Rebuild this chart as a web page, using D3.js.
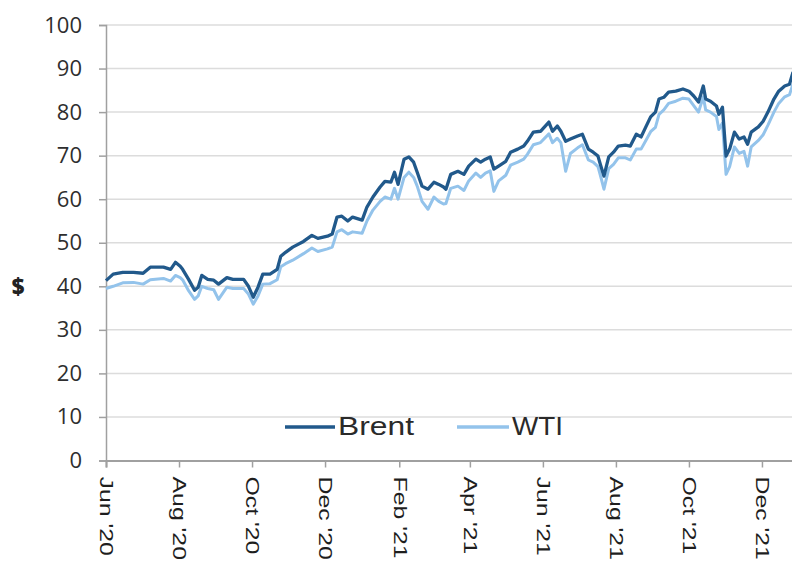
<!DOCTYPE html>
<html>
<head>
<meta charset="utf-8">
<script src="https://cdn.jsdelivr.net/npm/d3@7"></script>
<style>
  body { margin: 0; background: #fff; }
  svg { display: block; }
</style>
</head>
<body>
<div id="chart"></div>
<script>
// oil prices

var dates = [
  "2020-06-01","2020-06-07","2020-06-15","2020-06-24","2020-07-02","2020-07-08","2020-07-19","2020-07-25",
  "2020-07-29","2020-08-02","2020-08-04","2020-08-09","2020-08-14","2020-08-17","2020-08-20","2020-08-25",
  "2020-08-30","2020-09-03","2020-09-10","2020-09-15","2020-09-24","2020-09-28","2020-10-02","2020-10-06",
  "2020-10-10","2020-10-16","2020-10-22","2020-10-25","2020-10-29","2020-11-04","2020-11-13","2020-11-20",
  "2020-11-25","2020-12-03","2020-12-07","2020-12-11","2020-12-15","2020-12-20","2020-12-24","2021-01-01",
  "2021-01-05","2021-01-10","2021-01-16","2021-01-20","2021-01-25","2021-01-28","2021-01-31","2021-02-05",
  "2021-02-09","2021-02-13","2021-02-16","2021-02-20","2021-02-25","2021-03-02","2021-03-06","2021-03-10",
  "2021-03-12","2021-03-16","2021-03-22","2021-03-27","2021-03-31","2021-04-06","2021-04-10","2021-04-14",
  "2021-04-18","2021-04-21","2021-04-25","2021-05-01","2021-05-05","2021-05-11","2021-05-16","2021-05-19",
  "2021-05-24","2021-05-30","2021-06-06","2021-06-09","2021-06-13","2021-06-16","2021-06-20","2021-06-24",
  "2021-06-30","2021-07-04","2021-07-09","2021-07-13","2021-07-17","2021-07-19","2021-07-22","2021-07-26",
  "2021-07-30","2021-08-03","2021-08-09","2021-08-13","2021-08-18","2021-08-22","2021-08-26","2021-08-30",
  "2021-09-03","2021-09-06","2021-09-10","2021-09-14","2021-09-20","2021-09-26","2021-10-01","2021-10-05",
  "2021-10-09","2021-10-13","2021-10-15","2021-10-19","2021-10-24","2021-10-26","2021-10-29","2021-11-01",
  "2021-11-04","2021-11-08","2021-11-12","2021-11-16","2021-11-19","2021-11-22","2021-11-28","2021-12-02",
  "2021-12-06","2021-12-11","2021-12-15","2021-12-20","2021-12-24","2021-12-27"
];

var brent = [
  41.3, 42.8, 43.2, 43.2, 43.0, 44.4, 44.4, 43.9,
  45.5, 44.6, 43.9, 41.6, 39.1, 39.8, 42.5, 41.6,
  41.4, 40.5, 42.0, 41.6, 41.6, 40.0, 37.5, 39.8,
  42.8, 42.8, 43.9, 46.9, 47.8, 49.0, 50.3, 51.7,
  51.0, 51.5, 52.0, 55.9, 56.1, 55.0, 55.9, 55.2,
  58.2, 60.5, 62.8, 64.1, 63.9, 66.2, 63.4, 69.2,
  69.7, 68.5, 66.2, 63.0, 62.3, 63.9, 63.4, 62.8,
  62.3, 65.7, 66.4, 65.7, 67.6, 69.2, 68.5, 69.2,
  69.7, 66.9, 67.6, 68.7, 70.8, 71.5, 72.2, 73.3,
  75.4, 75.6, 77.7, 75.6, 76.8, 75.6, 73.3, 73.8,
  74.5, 74.9, 71.5, 70.8, 69.9, 68.0, 65.3, 69.7,
  70.8, 72.2, 72.4, 72.2, 74.9, 74.3, 76.6, 78.9,
  80.0, 83.0, 83.4, 84.6, 84.8, 85.3, 84.8, 83.7,
  82.3, 86.0, 83.0, 82.5, 81.4, 79.5, 81.1, 69.9,
  71.5, 75.4, 73.8, 74.3, 72.6, 75.4, 76.6, 77.9,
  80.0, 83.0, 84.8, 86.0, 86.4, 89.2
];

var wti = [
  39.5, 40.0, 40.8, 40.9, 40.5, 41.5, 41.8, 41.2,
  42.5, 42.0, 41.5, 39.0, 37.0, 37.8, 40.0, 39.5,
  39.2, 37.0, 39.8, 39.5, 39.5, 38.2, 35.9, 37.8,
  40.5, 40.6, 41.5, 44.5, 45.2, 46.0, 47.5, 48.8,
  48.0, 48.6, 49.0, 52.5, 53.0, 52.0, 52.5, 52.2,
  55.0, 57.5, 59.5, 60.5, 60.0, 62.5, 60.0, 65.0,
  66.2, 65.0, 63.0, 59.5, 57.7, 60.5, 59.5, 58.9,
  59.0, 62.5, 63.0, 62.0, 64.2, 66.0, 65.0, 66.0,
  66.5, 61.8, 64.2, 65.5, 67.8, 68.5, 69.2, 70.3,
  72.5, 73.0, 75.0, 73.0, 74.0, 73.0, 66.4, 70.5,
  71.8, 72.5, 69.0, 68.5, 67.5, 65.5, 62.3, 67.0,
  68.0, 69.5, 69.5, 69.0, 71.5, 71.5, 73.5, 75.5,
  76.5, 79.5, 80.5, 82.0, 82.5, 83.2, 83.0, 81.5,
  80.0, 83.5, 80.5, 80.0, 79.0, 76.0, 77.5, 65.7,
  67.5, 72.0, 70.5, 71.0, 67.6, 72.0, 73.5, 74.8,
  77.0, 80.0, 82.0, 83.5, 84.0, 86.5
];

var yTicks = [0, 10, 20, 30, 40, 50, 60, 70, 80, 90, 100];
var xTicks = ["2020-06-01","2020-08-01","2020-10-01","2020-12-01","2021-02-01","2021-04-01",
              "2021-06-01","2021-08-01","2021-10-01","2021-12-01"];
var xTickLabels = ["Jun '20","Aug '20","Oct '20","Dec '20","Feb '21","Apr '21",
                   "Jun '21","Aug '21","Oct '21","Dec '21"];

var width = 792,
    height = 568,
    plotLeft = 106,
    plotBottom = 460.5,
    plotTop = 25;

var parse = d3.timeParse("%Y-%m-%d");

var brentColor = "#21598b",
    wtiColor = "#93c3eb";

var svg = d3.select("#chart").append("svg")
    .attr("width", width)
    .attr("height", height);

var x = d3.scaleTime()
    .domain([parse("2020-06-01"), parse("2021-12-28")])
    .range([plotLeft, plotLeft + 575 * 1.197]);

var y = d3.scaleLinear()
    .domain([0, 100])
    .range([plotBottom, plotTop]);

// gridlines
svg.append("g")
  .selectAll("line")
  .data(yTicks.slice(1))
  .enter().append("line")
    .attr("x1", plotLeft)
    .attr("x2", width)
    .attr("y1", function(d) { return y(d); })
    .attr("y2", function(d) { return y(d); })
    .attr("stroke", "#dcdcdc")
    .attr("stroke-width", 1.5);

// y axis
var yAxis = svg.append("g")
    .attr("transform", "translate(" + plotLeft + ",0)")
    .call(d3.axisLeft(y).tickValues(yTicks).tickSize(7).tickPadding(17));

yAxis.select(".domain").attr("stroke", "#a0a0a0").attr("stroke-width", 1.5);
yAxis.selectAll(".tick line").attr("stroke", "#a0a0a0").attr("stroke-width", 1.5);
yAxis.selectAll(".tick text")
    .attr("font-family", "'Open Sans', sans-serif")
    .attr("font-weight", 500)
    .attr("font-size", "22px")
    .attr("fill", "#2e2e2e");

// x axis
var xAxis = svg.append("g")
    .attr("transform", "translate(0," + plotBottom + ")")
    .call(d3.axisBottom(x)
      .tickValues(xTicks.map(parse))
      .tickSize(7)
      .tickFormat(function(d, i) { return xTickLabels[i]; }));

xAxis.select(".domain").attr("stroke", "#a0a0a0").attr("stroke-width", 2);
xAxis.selectAll(".tick line").attr("stroke", "#a0a0a0").attr("stroke-width", 1.5);
xAxis.selectAll(".tick text")
    .attr("font-family", "'Liberation Sans', Arial, sans-serif")
    .attr("font-size", "18px")
    .attr("fill", "#1e1e1e")
    .attr("text-anchor", "start")
    .attr("dy", null)
    .attr("y", 0)
    .attr("dominant-baseline", "central")
    .attr("transform", "translate(0,16) rotate(90) scale(1.38,1)");

// $ label
svg.append("text")
    .attr("x", 18)
    .attr("y", y(40))
    .attr("text-anchor", "middle")
    .attr("dominant-baseline", "central")
    .attr("font-family", "'Open Sans', sans-serif")
    .attr("font-weight", 800)
    .attr("font-size", "22px")
    .attr("fill", "#222")
    .text("$");

// lines
var line = function(values) {
  return d3.line()
    .x(function(d, i) { return x(parse(dates[i])); })
    .y(function(d) { return y(d); })(values);
};

svg.append("path")
    .attr("d", line(wti))
    .attr("fill", "none")
    .attr("stroke", wtiColor)
    .attr("stroke-width", 3)
    .attr("stroke-linejoin", "round");

svg.append("path")
    .attr("d", line(brent))
    .attr("fill", "none")
    .attr("stroke", brentColor)
    .attr("stroke-width", 3.3)
    .attr("stroke-linejoin", "round");

// legend
var legend = [
  {name: "Brent", color: brentColor, x1: 285, x2: 335, tx: 338, len: 76},
  {name: "WTI", color: wtiColor, x1: 457, x2: 509, tx: 512, len: 51}
];

var lg = svg.append("g").selectAll("g")
    .data(legend)
    .enter().append("g");

lg.append("line")
    .attr("x1", function(d) { return d.x1; })
    .attr("x2", function(d) { return d.x2; })
    .attr("y1", 427)
    .attr("y2", 427)
    .attr("stroke", function(d) { return d.color; })
    .attr("stroke-width", 3.5);

lg.append("text")
    .attr("x", function(d) { return d.tx; })
    .attr("y", 435)
    .attr("font-family", "'Liberation Sans', Arial, sans-serif")
    .attr("font-size", "26px")
    .attr("fill", "#2a2a2a")
    .attr("textLength", function(d) { return d.len; })
    .attr("lengthAdjust", "spacingAndGlyphs")
    .text(function(d) { return d.name; });
</script>
</body>
</html>
